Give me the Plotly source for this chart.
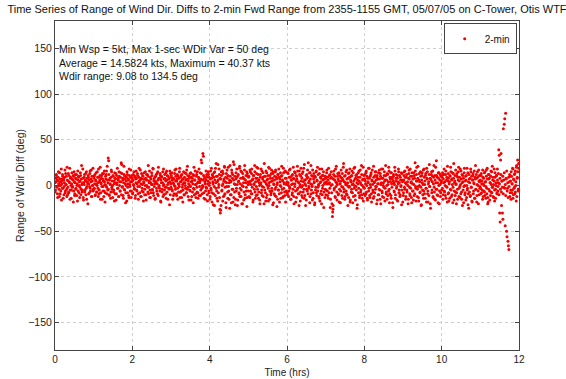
import plotly.graph_objects as go

# Range of wind-direction differences (deg), one pair of lists per hour.
# The "a" and "b" lists are interleaved samples, each evenly spread over its hour.
hr00a = "3 -5 8 12 -2 -9 5 15 0 -12 7 4 -6 18 2 -3 10 -14 6 -1 9 -8 13 1 -4 20 -10 5 -7 11 3 -15 8 0 -5 14 -2 6 -18 10 4 -9 12 -3 7 -11 2 16 -6 9 0 -13 5 11 -4 22 -7 3 8 -16 1 12 -5 6 -10 15 -1 4 -20 9 2 -8 13 -3 7 17 -12 5 0 -6"
hr00b = "-7 4 11 -1 6 -13 9 2 -4 14 -9 0 7 -16 5 12 -3 8 -10 3 17 -6 1 10 -12 6 -2 13 -8 4 19 -5 9 -14 2 7 -1 11 -6 15 -11 3 8 -4 12 0 -17 6 10 -8 4 -2 14 -10 7 1 -5 18 -13 3 9 -7 5 13 -3 -15 8 2 11 -9 6 -1 16 -6 4 -12 10 0 19 -4"
hr01a = "-4 10 2 -11 6 14 -7 0 9 -3 18 -9 4 11 -15 3 8 -1 13 -6 5 -12 16 1 -8 7 12 -2 21 -5 30 27 -10 6 2 -14 9 15 -4 0 11 -7 5 -17 8 3 13 -9 1 19 -3 6 -12 10 4 -6 14 25 23 -2 8 -11 3 12 -5 7 -19 0 9 15 -8 2 6 -13 11 -1 4 17 -6 8"
hr01b = "8 -3 12 -10 5 1 -7 15 3 -12 9 -5 6 20 -8 2 11 -15 7 -1 13 -6 4 -18 10 0 16 -9 6 3 -4 12 -11 8 1 -7 17 -2 5 -13 10 -5 2 14 -9 7 -16 11 3 -3 8 -12 15 0 -6 9 4 -10 13 -1 6 -14 21 -4 10 2 -8 5 -17 12 -2 7 -11 18 1 -6 9 -13 4 11"
hr02a = "5 -8 12 0 -3 9 -14 7 16 -5 2 11 -9 4 19 -1 6 -12 8 13 -6 1 10 -17 3 7 -4 15 -10 6 0 12 -7 22 -2 5 -13 9 3 -8 14 1 -5 18 -11 7 2 -15 10 4 -3 13 -9 6 20 -1 8 -6 11 -18 3 9 -4 15 0 -10 7 12 -2 5 -14 16 -7 1 10 -3 8 -21 4 13"
hr02b = "-9 6 1 15 -4 10 -11 3 8 -6 13 -1 -15 9 5 -8 17 2 -12 7 -3 11 -7 4 14 -10 0 8 -16 12 6 -2 10 -9 3 16 -5 -13 7 1 11 -4 19 -8 5 -1 9 -14 4 12 -6 2 15 -11 8 0 -3 13 -17 6 10 -7 3 -12 18 1 -5 8 -9 14 -2 6 11 -15 3 7 -4 16 -10 2"
hr03a = "-2 9 14 -6 3 -11 7 0 17 -4 10 -9 5 12 -15 2 8 -1 19 -7 4 11 -13 6 1 -5 15 -10 9 3 -3 13 -8 7 21 -2 5 -16 10 0 -6 14 4 -12 8 2 -19 11 -4 6 16 -9 1 12 -7 3 -14 9 18 -1 5 -11 7 13 -3 0 35 32 -8 10 4 -15 6 -2 12 -10 2 15 -6 9"
hr03b = "11 -4 6 -15 8 2 -9 13 -1 5 18 -11 7 -3 10 -7 1 15 -13 4 9 -6 12 -2 -18 7 3 -10 14 0 6 -8 17 -4 11 -12 2 8 -5 13 -1 -16 9 5 -7 12 -3 20 -10 6 1 -13 10 -2 15 -8 4 7 -11 3 14 -5 28 25 -9 6 -1 11 -14 8 2 -6 16 -3 9 -17 5 12 -8 0"
hr04a = "3 -12 16 -5 8 -18 11 2 -9 14 -22 6 19 -3 10 -14 4 23 -8 1 12 -26 -30 7 15 -6 0 -17 13 5 -11 20 -2 9 -24 3 17 -7 11 -1 -15 6 22 -10 4 -19 14 8 -4 26 -13 2 10 -21 7 -6 18 1 -16 12 5 -9 21 -3 8 -12 15 0 -20 9 3 -7 17 -14 6 11 -2 -23 13 4"
hr04b = "-15 7 -3 19 -8 12 4 -21 9 -1 15 -11 3 24 -6 10 -17 6 -2 18 -13 8 -27 -22 11 -5 16 2 -12 7 21 -9 4 -19 13 -1 8 -14 20 -6 3 -25 10 5 -10 17 -4 12 -18 6 23 -7 1 -15 14 -3 9 -22 11 4 -8 19 -12 2 16 -5 -20 8 13 -1 -16 7 22 -10 3 -6 15 -13 10 1"
hr05a = "-6 10 2 -13 15 5 -9 18 -2 7 -16 11 1 22 -7 4 -11 13 8 -4 19 -14 6 0 -20 12 3 -8 16 -1 9 -12 5 24 -5 10 -17 2 14 -10 7 -3 20 0 -15 11 4 -8 17 -6 8 13 -19 1 6 -11 15 -2 9 -23 3 12 -5 18 -9 7 0 -14 10 21 -4 5 -12 14 2 -7 16 -18 8 1"
hr05b = "9 -12 4 17 -6 1 13 -9 6 -18 11 2 -4 15 -14 8 -1 20 -10 5 12 -7 3 -16 9 1 18 -5 -11 7 14 -2 -20 10 4 -8 16 -13 6 0 11 -17 3 19 -6 8 -10 13 -3 5 -21 15 2 -9 10 -4 17 -12 7 1 -15 12 -5 9 -18 4 14 -1 -8 11 6 -13 19 -3 3 -11 8 15 -6 2"
hr06a = "4 -10 13 0 -6 17 -3 9 -15 6 11 -8 2 20 -12 7 -1 14 -18 5 10 -5 16 -9 3 -22 12 1 -7 19 -2 8 -13 15 4 -4 23 -11 6 0 -16 12 -6 9 25 -3 5 -19 14 2 -9 11 -1 17 -14 7 3 -21 10 -5 15 -8 6 20 -2 1 -12 13 -17 9 4 -6 18 -10 0 11 -24 7 3 -4"
hr06b = "-8 14 3 -12 9 -2 18 -15 6 1 -10 12 -4 8 -20 15 2 -6 11 -13 7 21 -3 4 -9 16 -1 -17 10 5 -11 13 0 -7 19 -14 6 2 -22 11 -4 8 17 -9 3 -1 14 -12 7 22 -5 1 -16 10 -8 13 4 -19 9 -2 16 -11 5 -6 12 0 -14 18 3 -9 8 -20 11 -3 6 15 -7 2 -13 10"
hr07a = "8 -5 14 2 -11 6 19 -8 3 12 -15 0 9 -20 -34 -26 7 16 -3 10 -13 4 21 -7 1 13 -10 5 -18 11 2 -6 17 -1 8 -14 6 24 -4 10 -12 3 15 -9 7 0 -22 13 -2 9 18 -16 4 -7 11 1 -19 14 5 -3 20 -11 8 -1 12 -25 6 2 -8 16 -13 9 3 -5 22 -10 0 7 -17 11"
hr07b = "-10 4 17 -6 9 -14 2 11 -3 -24 8 15 -8 1 -29 -22 12 -5 6 -12 18 -1 3 -16 10 7 -9 14 -4 2 -19 9 5 -11 13 -2 20 -7 4 -15 11 1 -6 17 -10 3 8 -13 14 -1 -18 6 10 -4 16 -8 2 -12 19 0 7 -16 11 -5 3 -21 9 14 -3 5 -11 17 -7 1 12 -14 6 20 -2 -9"
hr08a = "-3 12 5 -9 16 0 -14 8 3 -6 19 -11 10 -2 14 -18 6 1 -7 21 -12 4 11 -4 15 -1 9 -16 7 2 -10 17 -5 13 -20 3 8 -8 18 0 -13 11 5 -3 22 -9 6 -15 12 1 -6 16 -19 9 4 -11 14 -2 7 -24 10 3 -7 20 -14 5 12 -1 8 -17 2 15 -5 11 -10 6 0 -21 13 4"
hr08b = "7 -11 2 14 -7 10 -16 4 19 -3 8 -13 1 12 -9 5 17 -5 -14 9 3 -8 15 -1 6 -20 11 2 -10 14 -4 7 -15 10 1 18 -6 -12 8 3 -2 15 -17 6 11 -7 0 13 -11 4 20 -4 -9 7 14 -14 2 9 -19 5 12 -6 1 16 -10 8 -3 -16 11 4 18 -8 3 -12 9 -1 14 -5 6 -18"
hr09a = "5 -8 11 -2 16 3 -12 9 -5 20 0 -15 13 7 -9 18 -3 4 -19 10 2 -6 14 -11 8 25 -1 -17 12 5 -4 21 -13 6 0 -8 15 -2 -21 11 3 -10 17 -6 9 1 -14 13 -3 19 7 -9 -18 4 12 -1 8 -25 6 15 -5 10 -12 2 22 -7 11 -16 3 27 -4 9 -11 14 0 -20 6 12 -8 3"
hr09b = "-11 6 15 -4 9 -15 2 12 -7 4 -20 8 17 -2 -11 10 3 -13 14 -6 7 -16 1 11 -9 16 -3 5 20 -12 8 -1 -17 13 4 -7 10 -22 6 14 -5 1 -14 18 -9 5 11 -3 -18 8 15 -6 2 -11 23 -1 -20 7 12 -8 4 16 -13 9 -2 -15 6 20 -4 11 -10 3 -19 8 14 -6 1 -12 10 5"
hr10a = "-5 9 14 -10 3 18 -7 0 12 -14 6 -2 21 -9 8 -17 4 11 -4 15 -12 7 1 -19 13 24 -6 5 -11 17 2 -8 10 -15 6 20 -3 9 -13 1 16 -7 12 -22 4 8 -1 19 -10 5 -16 11 0 -5 14 -9 -25 7 3 -12 18 -2 10 -18 6 13 -6 2 -14 9 22 -4 8 -11 15 0 -20 5 11 -3"
hr10b = "11 -3 -15 7 12 -6 4 -11 16 -1 9 -18 5 13 -8 2 -14 10 20 -5 6 -10 14 -2 8 -16 3 11 -7 1 -20 13 -4 9 15 -12 5 -1 18 -9 7 -15 3 11 -5 -19 14 0 -8 10 6 -13 19 -3 -21 4 12 -7 8 -11 15 -2 -17 6 11 -9 3 16 -14 7 -4 12 -18 1 9 -6 17 -10 4 -1"
hr11a = ("6 -9 13 2 -5 17 -12 8 0 -7 15 4 -14 10 -3 19 -20 -18 7 12 -6 3 -11 16 1 -8 21 -2 9 -13 "
         "5 -17 14 -4 0 11 -9 18 -6 3 39 33 -30 -40 28 35 -22 5 -30 -37 62 -2 67 73 -44 79 8 -50 "
         "-56 -3 -61 -66 -70 4 -12 10 -5 15 -8 2 19 -14 7 -3 12 -9 16 0 -17 22 8 28 -6 24")
hr11b = "-3 11 -8 5 -15 9 2 -6 14 -11 4 -1 17 -9 7 -13 12 -4 8 -16 3 10 -7 15 -2 6 -12 1 18 -5 9 -14 3 11 -8 6 -1 13 -10 2 8 -4 12 -7 5 -2 10 -9 6 14 -3 1 -11 7 16 -6 3 -13 9 -1 12 -8 5 -15 10 2 -5 18 -10 6 -2 13 -7 4 20 -12 9 15 -4 19"

hours = [(hr00a, hr00b), (hr01a, hr01b), (hr02a, hr02b), (hr03a, hr03b),
         (hr04a, hr04b), (hr05a, hr05b), (hr06a, hr06b), (hr07a, hr07b),
         (hr08a, hr08b), (hr09a, hr09b), (hr10a, hr10b), (hr11a, hr11b)]

time_hrs = []
wdir_range = []
for h, (block_a, block_b) in enumerate(hours):
    for block, offset in ((block_a, 0.0), (block_b, 0.5)):
        vals = [float(v) for v in block.split()]
        n = len(vals)
        time_hrs += [h + (i + offset) / n for i in range(n)]
        wdir_range += vals

title_text = ("Time Series of Range of Wind Dir. Diffs to 2-min Fwd Range from 2355-1155 GMT, "
              "05/07/05 on C-Tower, Otis WTF")
info_lines = ["Min Wsp = 5kt, Max 1-sec WDir Var = 50 deg",
              "Average = 14.5824 kts, Maximum = 40.37 kts",
              "Wdir range: 9.08 to 134.5 deg"]
x_ticks = [0, 2, 4, 6, 8, 10, 12]
y_ticks = [-150, -100, -50, 0, 50, 100, 150]

FONT = "Liberation Sans, Arial, sans-serif"
INK = "#222222"

fig = go.Figure()
fig.add_trace(go.Scatter(
    x=time_hrs, y=wdir_range, mode="markers", name="2-min",
    marker=dict(color="#f20000", size=3, line=dict(width=0)),
))

axis_common = dict(
    showline=True, linecolor="#444444", linewidth=1, mirror="ticks",
    ticks="inside", ticklen=4, tickcolor="#444444",
    showgrid=True, gridcolor="#cfcfcf", griddash="dot", gridwidth=1,
    zeroline=False, automargin=False,
)

fig.update_xaxes(range=[0, 12], tickvals=x_ticks, ticklabelstandoff=0,
                 tickfont=dict(family=FONT, size=10, color=INK),
                 title=dict(text="Time (hrs)", font=dict(family=FONT, size=10, color=INK), standoff=4),
                 **axis_common)
fig.update_yaxes(range=[-180, 180], tickvals=y_ticks,
                 tickfont=dict(family=FONT, size=10.5, color=INK),
                 title=dict(text="Range of Wdir Diff (deg)", font=dict(family=FONT, size=10.5, color=INK), standoff=1),
                 **axis_common)

# Run statistics, one text block in the upper-left corner of the axes
fig.add_annotation(x=0, y=150, xref="x", yref="y", xanchor="left", yanchor="top",
                   xshift=2, yshift=7, text="<br>".join(info_lines), showarrow=False,
                   align="left", font=dict(family=FONT, size=10.5, color="#111111"))

fig.update_layout(
    width=566, height=379,
    margin=dict(l=55, r=47, t=21, b=29),
    paper_bgcolor="white", plot_bgcolor="white",
    title=dict(text=title_text, x=0.5, xref="paper", xanchor="center",
               y=1 - 9 / 379, yref="container", yanchor="middle",
               font=dict(family=FONT, size=11, color="#111111")),
    showlegend=True,
    legend=dict(x=0.995, y=0.993, xanchor="right", yanchor="top",
                bgcolor="white", bordercolor="#444444", borderwidth=1,
                font=dict(family=FONT, size=10, color="#111111"),
                itemsizing="trace", tracegroupgap=0),
)

fig.write_html("out.html")
